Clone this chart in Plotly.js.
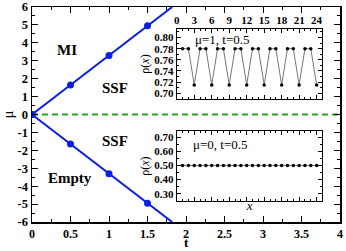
<!DOCTYPE html>
<html><head><meta charset="utf-8">
<script src="https://cdn.plot.ly/plotly-3.0.1.min.js"></script>
<style>html,body{margin:0;padding:0;background:#fff}#c{width:346px;height:251px}</style>
</head><body><div id="c"></div>
<script>
// main phase diagram
const boundaryT = [0, 0.5, 1, 1.5];
const upperMu = [0, 1.65, 3.3, 4.95];
const lowerMu = [0, -1.65, -3.3, -4.95];
const lineT = [0, 0.5, 1, 1.5, 1.82];
const lineUpper = [0, 1.65, 3.3, 4.95, 6];
const lineLower = [0, -1.65, -3.3, -4.95, -6];
const zeroT = [0, 4];
const zeroMu = [0, 0];
// inset 1: mu=1, t=0.5
const site1 = [1,2,3,4,5,6,7,8,9,10,11,12,13,14,15,16,17,18,19,20,21,22,23,24];
const rho1 = [0.78,0.78,0.715,0.78,0.78,0.715,0.78,0.78,0.715,0.78,0.78,0.715,0.78,0.78,0.715,0.78,0.78,0.715,0.78,0.78,0.715,0.78,0.78,0.715];
// inset 2: mu=0, t=0.5
const site2 = [1,2,3,4,5,6,7,8,9,10,11,12,13,14,15,16,17,18,19,20,21,22,23,24];
const rho2 = [0.5,0.5,0.5,0.5,0.5,0.5,0.5,0.5,0.5,0.5,0.5,0.5,0.5,0.5,0.5,0.5,0.5,0.5,0.5,0.5,0.5,0.5,0.5,0.5];
const mainXTicks = [0,0.5,1,1.5,2,2.5,3,3.5,4];
const mainXLabels = ['0','0.5','1','1.5','2','2.5','3','3.5','4'];
const mainYTicks = [-6,-5,-4,-3,-2,-1,0,1,2,3,4,5,6];
const mainYLabels = ['-6','-5','-4','-3','-2','-1','0','1','2','3','4','5','6'];

const SERIF = 'Liberation Serif, Times New Roman, serif';
const BLUE = '#0a1fe6';
const GREEN = '#22a822';

const traces = [
  {x: zeroT, y: zeroMu, mode: 'lines', line: {color: GREEN, width: 2, dash: '6px,4px'}, xaxis: 'x', yaxis: 'y', hoverinfo: 'skip'},
  {x: lineT, y: lineUpper, mode: 'lines', line: {color: BLUE, width: 2}, xaxis: 'x', yaxis: 'y'},
  {x: lineT, y: lineLower, mode: 'lines', line: {color: BLUE, width: 2}, xaxis: 'x', yaxis: 'y'},
  {x: boundaryT, y: upperMu, mode: 'markers', marker: {color: BLUE, size: 7}, xaxis: 'x', yaxis: 'y'},
  {x: boundaryT, y: lowerMu, mode: 'markers', marker: {color: BLUE, size: 7}, xaxis: 'x', yaxis: 'y'},
  {x: site1, y: rho1, mode: 'lines+markers', line: {color: '#777', width: 1}, marker: {color: '#000', size: 3.5}, xaxis: 'x2', yaxis: 'y2'},
  {x: site2, y: rho2, mode: 'lines+markers', line: {color: '#777', width: 1}, marker: {color: '#000', size: 3.5}, xaxis: 'x3', yaxis: 'y3'}
];

const tickBoldY = {family: SERIF, size: 12.5, color: '#000', weight: 700};
const tickBoldX = {family: SERIF, size: 12, color: '#000', weight: 700};
const insetTick = {family: SERIF, size: 11, color: '#000', weight: 700};

const layout = {
  width: 346, height: 251,
  margin: {l: 32, r: 6, t: 7, b: 29},
  paper_bgcolor: '#fff', plot_bgcolor: '#fff',
  showlegend: false,
  xaxis: {
    domain: [0, 1], range: [0, 4], tickvals: mainXTicks, ticktext: mainXLabels,
    ticks: 'inside', ticklen: 6, tickwidth: 1, tickcolor: '#000', ticklabeloverflow: 'allow',
    minor: {dtick: 0.25, ticks: 'inside', ticklen: 3, tickcolor: '#000'},
    showline: true, linecolor: '#000', linewidth: 1.5, mirror: 'allticks',
    showgrid: false, zeroline: false, tickfont: tickBoldX
  },
  yaxis: {
    domain: [0, 1], range: [-6, 6], tickvals: mainYTicks, ticktext: mainYLabels,
    ticks: 'inside', ticklen: 6, tickwidth: 1, tickcolor: '#000', ticklabeloverflow: 'allow',
    minor: {dtick: 0.5, ticks: 'inside', ticklen: 3, tickcolor: '#000'},
    showline: true, linecolor: '#000', linewidth: 1.5, mirror: 'allticks',
    showgrid: false, zeroline: false, tickfont: tickBoldY,
    title: {text: 'μ', font: {family: SERIF, size: 15, color: '#000'}, standoff: 6}
  },
  xaxis2: {
    domain: [0.470, 0.943], anchor: 'y2', side: 'top', range: [0, 25], dtick: 3, tick0: 0,
    ticks: 'inside', ticklen: 4, tickcolor: '#000',
    minor: {dtick: 1, ticks: 'inside', ticklen: 2, tickcolor: '#000'},
    showline: true, linecolor: '#000', linewidth: 1, mirror: 'allticks',
    showgrid: false, zeroline: false, tickfont: insetTick
  },
  yaxis2: {
    domain: [0.573, 0.897], anchor: 'x2', range: [0.69, 0.815], dtick: 0.02, tick0: 0.7, tickformat: '.2f',
    ticks: 'inside', ticklen: 4, tickcolor: '#000',
    minor: {dtick: 0.01, ticks: 'inside', ticklen: 2, tickcolor: '#000'},
    showline: true, linecolor: '#000', linewidth: 1, mirror: 'allticks',
    showgrid: false, zeroline: false, tickfont: insetTick,
    title: {text: 'ρ(<i>x</i>)', font: {family: SERIF, size: 12, color: '#000'}, standoff: 2}
  },
  xaxis3: {
    domain: [0.470, 0.943], anchor: 'y3', range: [0, 25], dtick: 3, tick0: 0,
    ticks: 'inside', ticklen: 4, tickcolor: '#000', showticklabels: false,
    minor: {dtick: 1, ticks: 'inside', ticklen: 2, tickcolor: '#000'},
    showline: true, linecolor: '#000', linewidth: 1, mirror: 'allticks',
    showgrid: false, zeroline: false,
    title: {text: '<i>x</i>', font: {family: SERIF, size: 13, color: '#000'}, standoff: 0}
  },
  yaxis3: {
    domain: [0.0986, 0.421], anchor: 'x3', range: [0.25, 0.74], dtick: 0.1, tick0: 0.3, tickformat: '.2f',
    ticks: 'inside', ticklen: 4, tickcolor: '#000',
    minor: {dtick: 0.05, ticks: 'inside', ticklen: 2, tickcolor: '#000'},
    showline: true, linecolor: '#000', linewidth: 1, mirror: 'allticks',
    showgrid: false, zeroline: false, tickfont: insetTick,
    title: {text: 'ρ(<i>x</i>)', font: {family: SERIF, size: 12, color: '#000'}, standoff: 2}
  },
  annotations: [
    {x: 0.5, y: -0.1349, xref: 'paper', yref: 'paper', yanchor: 'bottom', borderpad: 0, text: 't', showarrow: false, font: {family: SERIF, size: 13, color: '#000', weight: 700}},
    {x: 0.455, y: 3.6, xref: 'x', yref: 'y', text: 'MI', showarrow: false, font: {family: SERIF, size: 15, color: '#000', weight: 700}},
    {x: 1.08, y: 1.5, xref: 'x', yref: 'y', text: 'SSF', showarrow: false, font: {family: SERIF, size: 15, color: '#000', weight: 700}},
    {x: 1.08, y: -1.48, xref: 'x', yref: 'y', text: 'SSF', showarrow: false, font: {family: SERIF, size: 15, color: '#000', weight: 700}},
    {x: 0.49, y: -3.55, xref: 'x', yref: 'y', text: 'Empty', showarrow: false, font: {family: SERIF, size: 15, color: '#000', weight: 700}},
    {x: 2.8, y: 0.797, xref: 'x2', yref: 'y2', xanchor: 'left', text: 'μ=1, t=0.5', showarrow: false, font: {family: SERIF, size: 13, color: '#000'}},
    {x: 2.4, y: 0.645, xref: 'x3', yref: 'y3', xanchor: 'left', text: 'μ=0, t=0.5', showarrow: false, font: {family: SERIF, size: 13, color: '#000'}}
  ]
};

Plotly.newPlot('c', traces, layout, {displayModeBar: false, staticPlot: true});
</script>
</body></html>
